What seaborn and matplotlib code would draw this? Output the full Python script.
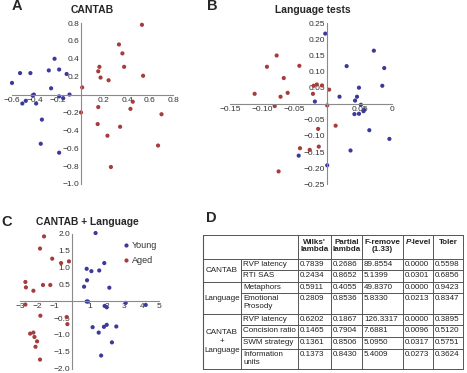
import numpy as np
import pandas as pd
import matplotlib
matplotlib.use('Agg')
import matplotlib.pyplot as plt
import seaborn as sns

# ------------------------------------------ DATA ------------------------------------------------#
a_young_x = [-0.23, -0.53, -0.44, -0.28, -0.19, -0.125, -0.60, -0.26, -0.41, -0.42, -0.10, -0.19, -0.155, -0.48, -0.51, -0.39, -0.34, -0.35, -0.19]
a_young_y = [0.40, 0.24, 0.24, 0.27, 0.28, 0.23, 0.13, 0.07, 0.0, -0.01, 0.0, -0.02, -0.04, -0.07, -0.10, -0.10, -0.28, -0.55, -0.65]
a_aged_x = [0.53, 0.33, 0.36, 0.375, 0.16, 0.15, 0.17, 0.24, 0.54, 0.01, 0.45, 0.43, 0.15, 0.0, 0.70, 0.145, 0.34, 0.23, 0.67, 0.26]
a_aged_y = [0.78, 0.56, 0.46, 0.31, 0.31, 0.26, 0.19, 0.16, 0.21, 0.08, -0.08, -0.16, -0.14, -0.20, -0.22, -0.33, -0.36, -0.46, -0.57, -0.81]

b_young_x = [-0.003, 0.072, 0.088, 0.030, 0.085, 0.049, 0.019, 0.046, 0.043, -0.019, 0.052, 0.057, 0.056, 0.042, 0.049, 0.065, 0.096, 0.036, -0.044, 0.0]
b_young_y = [0.218, 0.165, 0.111, 0.117, 0.056, 0.050, 0.022, 0.022, 0.010, 0.007, -0.003, -0.019, -0.023, -0.032, -0.031, -0.082, -0.109, -0.145, -0.161, -0.191]
b_aged_x = [-0.078, -0.093, -0.043, -0.067, -0.021, -0.016, -0.008, 0.003, -0.112, -0.061, -0.072, -0.022, -0.081, 0.0, 0.013, -0.014, -0.042, -0.027, -0.013, -0.075]
b_aged_y = [0.150, 0.115, 0.118, 0.080, 0.056, 0.060, 0.057, 0.044, 0.031, 0.034, 0.022, 0.031, -0.007, -0.005, -0.068, -0.078, -0.138, -0.143, -0.133, -0.210]

c_young_x = [1.34, 1.84, 0.83, 1.55, 1.10, 0.85, 0.68, 2.13, 0.83, 0.90, 3.07, 4.22, 1.86, 1.98, 1.17, 1.98, 1.82, 2.53, 1.52, 2.28, 1.66]
c_young_y = [2.02, 1.13, 0.96, 0.91, 0.89, 0.62, 0.43, 0.40, -0.01, -0.01, -0.05, -0.11, -0.14, -0.18, -0.77, -0.70, -0.76, -0.75, -0.93, -1.22, -1.61]
c_aged_x = [-1.62, -1.85, -1.15, -0.64, -0.19, -2.69, -2.66, -2.23, -1.68, -1.26, -2.69, -1.83, -0.32, -0.28, -2.42, -2.23, -2.17, -2.02, -2.11, -1.85]
c_aged_y = [1.92, 1.56, 1.26, 1.13, 1.18, 0.57, 0.41, 0.31, 0.48, 0.48, -0.10, -0.43, -0.47, -0.68, -0.96, -0.93, -1.06, -1.19, -1.35, -1.73]

groups = ['Young', 'Aged']

tbl_groups = ['CANTAB', 'Language', 'CANTAB\n+\nLanguage']
tbl_header = ["Wilks'\nlambda", 'Partial\nlambda', 'F-remove\n(1.33)', 'P-level', 'Toler']
tbl_vars = ['RVP latency', 'RTI SAS', 'Metaphors', 'Emotional\nProsody',
            'RVP latency', 'Concision ratio', 'SWM strategy', 'Information\nunits']
tbl_wilks = ['0.7839', '0.2434', '0.5911', '0.2809', '0.6202', '0.1465', '0.1361', '0.1373']
tbl_partial = ['0.2686', '0.8652', '0.4055', '0.8536', '0.1867', '0.7904', '0.8506', '0.8430']
tbl_fremove = ['89.8554', '5.1399', '49.8370', '5.8330', '126.3317', '7.6881', '5.0950', '5.4009']
tbl_plevel = ['0.0000', '0.0301', '0.0000', '0.0213', '0.0000', '0.0096', '0.0317', '0.0273']
tbl_toler = ['0.5598', '0.6856', '0.9423', '0.8347', '0.3895', '0.5120', '0.5751', '0.3624']

# ------------------------------------------ STYLE ------------------------------------------------#
sns.set_style('white')
plt.rcParams['font.family'] = ['Liberation Sans', 'DejaVu Sans']
palette = {'Young': '#3b3a9a', 'Aged': '#a63c3c'}
W, H = 467, 373

def frame(x0, y0, x1, y1):
    # pixel box (top-left origin) -> figure fraction rect
    return [x0 / W, 1 - y1 / H, (x1 - x0) / W, (y1 - y0) / H]

def make_df(yx, yy, ax_, ay_):
    return pd.DataFrame({'x': yx + ax_, 'y': yy + ay_,
                         'group': [groups[0]] * len(yx) + [groups[1]] * len(ax_)})

def style_axis(ax, xlim, ylim, xt, xtl, yt, ytl):
    ax.set_xlim(xlim)
    ax.set_ylim(ylim)
    for s in ['top', 'right']:
        ax.spines[s].set_visible(False)
    for s in ['left', 'bottom']:
        ax.spines[s].set_position('zero')
        ax.spines[s].set_color('#8a8a8a')
        ax.spines[s].set_linewidth(0.8)
    ax.set_xticks(xt)
    ax.set_xticklabels(xtl)
    ax.set_yticks(yt)
    ax.set_yticklabels(ytl)
    ax.tick_params(direction='in', length=3, width=0.7, color='#8a8a8a',
                   labelsize=6, labelcolor='#333333', pad=1.5)
    ax.set_xlabel('')
    ax.set_ylabel('')
    ax.patch.set_alpha(0)

fig = plt.figure(figsize=(W / 100, H / 100), dpi=100)

# ------------------------------------------ PANEL A ------------------------------------------------#
axA = fig.add_axes(frame(12, 23, 173, 184))
sns.scatterplot(data=make_df(a_young_x, a_young_y, a_aged_x, a_aged_y), x='x', y='y',
                hue='group', palette=palette, s=9, linewidth=0, legend=False, ax=axA, clip_on=False)
style_axis(axA, (-0.6, 0.8), (-1.0, 0.8),
           [-0.6, -0.4, -0.2, 0.2, 0.4, 0.6, 0.8], ['−0.6', '−0.4', '−0.2', '0.2', '0.4', '0.6', '0.8'],
           [0.8, 0.6, 0.4, 0.2, -0.2, -0.4, -0.6, -0.8, -1.0],
           ['0.8', '0.6', '0.4', '0.2', '−0.2', '−0.4', '−0.6', '−0.8', '−1.0'])

# ------------------------------------------ PANEL B ------------------------------------------------#
axB = fig.add_axes(frame(230, 23.3, 392, 184.3))
sns.scatterplot(data=make_df(b_young_x, b_young_y, b_aged_x, b_aged_y), x='x', y='y',
                hue='group', palette=palette, s=9, linewidth=0, legend=False, ax=axB, clip_on=False)
style_axis(axB, (-0.15, 0.10), (-0.25, 0.25),
           [-0.15, -0.10, -0.05, 0.05, 0.10], ['−0.15', '−0.10', '−0.05', '0.05', '0'],
           [0.25, 0.20, 0.15, 0.10, 0.05, -0.05, -0.10, -0.15, -0.20, -0.25],
           ['0.25', '0.20', '0.15', '0.10', '0.05', '−0.05', '−0.10', '−0.15', '−0.20', '−0.25'])

# ------------------------------------------ PANEL C ------------------------------------------------#
axC = fig.add_axes(frame(20, 233.7, 159.3, 368.7))
sns.scatterplot(data=make_df(c_young_x, c_young_y, c_aged_x, c_aged_y), x='x', y='y',
                hue='group', palette=palette, s=9, linewidth=0, ax=axC, clip_on=False)
style_axis(axC, (-3, 5), (-2.0, 2.0),
           [-3, -2, -1, 1, 2, 3, 4, 5], ['−3', '−2', '−1', '1', '2', '3', '4', '5'],
           [2.0, 1.5, 1.0, 0.5, -0.5, -1.0, -1.5, -2.0],
           ['2.0', '1.5', '1.0', '0.5', '−0.5', '−1.0', '−1.5', '−2.0'])
axC.legend(frameon=False, fontsize=6.5, loc='upper left', bbox_to_anchor=(0.70, 0.975),
           handletextpad=0.2, handlelength=1.0, labelspacing=0.75, borderaxespad=0,
           labelcolor='#333333')

# ------------------------------------------ TITLES ------------------------------------------------#
def ftext(x, y, s, **kw):
    fig.text(x / W, 1 - y / H, s, **kw)

ftext(17, 6, 'A', fontsize=10.5, fontweight='bold', ha='center', va='center')
ftext(212, 6, 'B', fontsize=10.5, fontweight='bold', ha='center', va='center')
ftext(7, 222, 'C', fontsize=10.5, fontweight='bold', ha='center', va='center')
ftext(211, 218, 'D', fontsize=10.5, fontweight='bold', ha='center', va='center')
ftext(92, 10, 'CANTAB', fontsize=7.5, fontweight='bold', ha='center', va='center')
ftext(313, 10, 'Language tests', fontsize=7.4, fontweight='bold', ha='center', va='center')
ftext(87, 222, 'CANTAB + Language', fontsize=7.4, fontweight='bold', ha='center', va='center')

# ------------------------------------------ PANEL D (table) ------------------------------------------------#
axD = fig.add_axes(frame(0, 0, W, H))
axD.set_xlim(0, W)
axD.set_ylim(H, 0)
axD.axis('off')
axD.patch.set_alpha(0)

cols = [203, 241, 298, 331, 362, 403, 433, 463]
rows = [235, 259, 270, 282, 293, 314, 325, 337, 349, 369]
lc = '#555555'
for y in [235, 259, 282, 314, 369]:
    axD.plot([cols[0], cols[-1]], [y, y], color=lc, lw=0.7)
for y in [270, 293, 325, 337, 349]:
    axD.plot([cols[1], cols[-1]], [y, y], color=lc, lw=0.7)
axD.plot([cols[0], cols[0]], [rows[0], rows[-1]], color=lc, lw=0.8)
axD.plot([cols[1], cols[1]], [rows[1], rows[-1]], color=lc, lw=0.7)
for x in cols[2:]:
    axD.plot([x, x], [rows[0], rows[-1]], color=lc, lw=0.7)

fs = 5.8
tc = '#222222'
# header
for j, h in enumerate(tbl_header):
    xc = (cols[j + 2] + cols[j + 3]) / 2
    if h == 'P-level':
        axD.text(xc - 7, 242, 'P', fontsize=fs, fontweight='bold', fontstyle='italic',
                 ha='right', va='center', color=tc)
        axD.text(xc - 7, 242, '-level', fontsize=fs, fontweight='bold',
                 ha='left', va='center', color=tc)
    elif '\n' in h:
        axD.text(xc, 246, h, fontsize=fs, fontweight='bold', ha='center', va='center',
                 color=tc, linespacing=1.15)
    else:
        axD.text(xc, 242, h, fontsize=fs, fontweight='bold', ha='center', va='center', color=tc)

# group labels
group_spans = [(259, 282), (282, 314), (314, 369)]
for g, (y0, y1) in zip(tbl_groups, group_spans):
    axD.text((cols[0] + cols[1]) / 2, (y0 + y1) / 2, g, fontsize=fs, ha='center',
             va='center', color=tc, linespacing=1.35)

# variable rows
row_tops = [259, 270, 282, 293, 314, 325, 337, 349]
for i, v in enumerate(tbl_vars):
    ytxt = row_tops[i] + 5.5
    if '\n' in v:
        axD.text(cols[1] + 2, row_tops[i] + 1.5, v, fontsize=fs, ha='left', va='top',
                 color=tc, linespacing=1.2)
    else:
        axD.text(cols[1] + 2, ytxt, v, fontsize=fs, ha='left', va='center', color=tc)
    for j, vals in enumerate([tbl_wilks, tbl_partial, tbl_fremove, tbl_plevel, tbl_toler]):
        axD.text(cols[j + 2] + 2, ytxt, vals[i], fontsize=fs, ha='left', va='center', color=tc)

plt.savefig('out.png', dpi=100)
